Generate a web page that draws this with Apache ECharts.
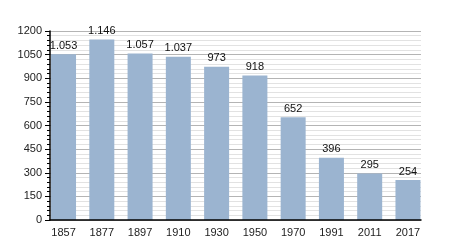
<!DOCTYPE html>
<html><head><meta charset="utf-8">
<script src="https://cdn.jsdelivr.net/npm/echarts@6/dist/echarts.min.js"></script>
<style>html,body{margin:0;padding:0;background:#fff}#c{width:450px;height:250px}</style>
</head><body><div id="c"></div>
<script>
const categories = ['1857','1877','1897','1910','1930','1950','1970','1991','2011','2017'];
const values = [1053,1146,1057,1037,973,918,652,396,295,254];
const yTicks = [0,150,300,450,600,750,900,1050,1200];

function fmt(v){ return String(v).replace(/\B(?=(\d{3})+(?!\d))/g,'.'); }
const FONT = 'Liberation Sans, Arial, sans-serif';
const yMin = yTicks[0], yMax = yTicks[yTicks.length-1];

const chart = echarts.init(document.getElementById('c'), null, {renderer:'canvas'});
chart.setOption({
  animation:false,
  grid:[
    {left:50,right:29,top:31,bottom:30,containLabel:false},
    {left:44.4,right:22.9,top:31,bottom:30,containLabel:false}
  ],
  xAxis:[
    {type:'category',gridIndex:0,data:categories,z:10,
      axisLine:{lineStyle:{color:'#000',width:1.5}},
      axisTick:{show:false},axisLabel:{show:false},splitLine:{show:false}},
    {type:'category',gridIndex:1,data:categories,
      axisLine:{show:false},axisTick:{show:false},
      axisLabel:{color:'#222',fontSize:11,fontFamily:FONT,margin:7}}
  ],
  yAxis:[
    {type:'value',gridIndex:0,min:yMin,max:yMax,interval:150,
      axisLine:{show:false},axisTick:{show:false},axisLabel:{show:false},
      minorTick:{show:true,splitNumber:5,length:0},
      splitLine:{show:true,lineStyle:{color:'#b4b4b4',width:1}},
      minorSplitLine:{show:true,lineStyle:{color:'#e2e2e2',width:1}}},
    {type:'value',gridIndex:1,min:yMin,max:yMax,interval:150,show:false,
      splitLine:{show:false}},
    {type:'value',gridIndex:0,min:yMin,max:yMax,interval:150,z:10,position:'left',
      axisLine:{show:true,lineStyle:{color:'#000',width:1.5}},
      axisTick:{show:true,length:5,lineStyle:{color:'#000'}},
      minorTick:{show:true,splitNumber:5,length:3,lineStyle:{color:'#000'}},
      axisLabel:{color:'#222',fontSize:11,fontFamily:FONT,margin:8,formatter:v=>String(v)},
      splitLine:{show:false},minorSplitLine:{show:false}}
  ],
  series:[{type:'bar',xAxisIndex:1,yAxisIndex:1,data:values,barWidth:25,
    itemStyle:{color:'#9bb4d0'},
    label:{show:true,position:'top',distance:3,color:'#111',fontSize:11,
      fontFamily:FONT,formatter:p=>fmt(p.value)}}]
});
</script></body></html>
